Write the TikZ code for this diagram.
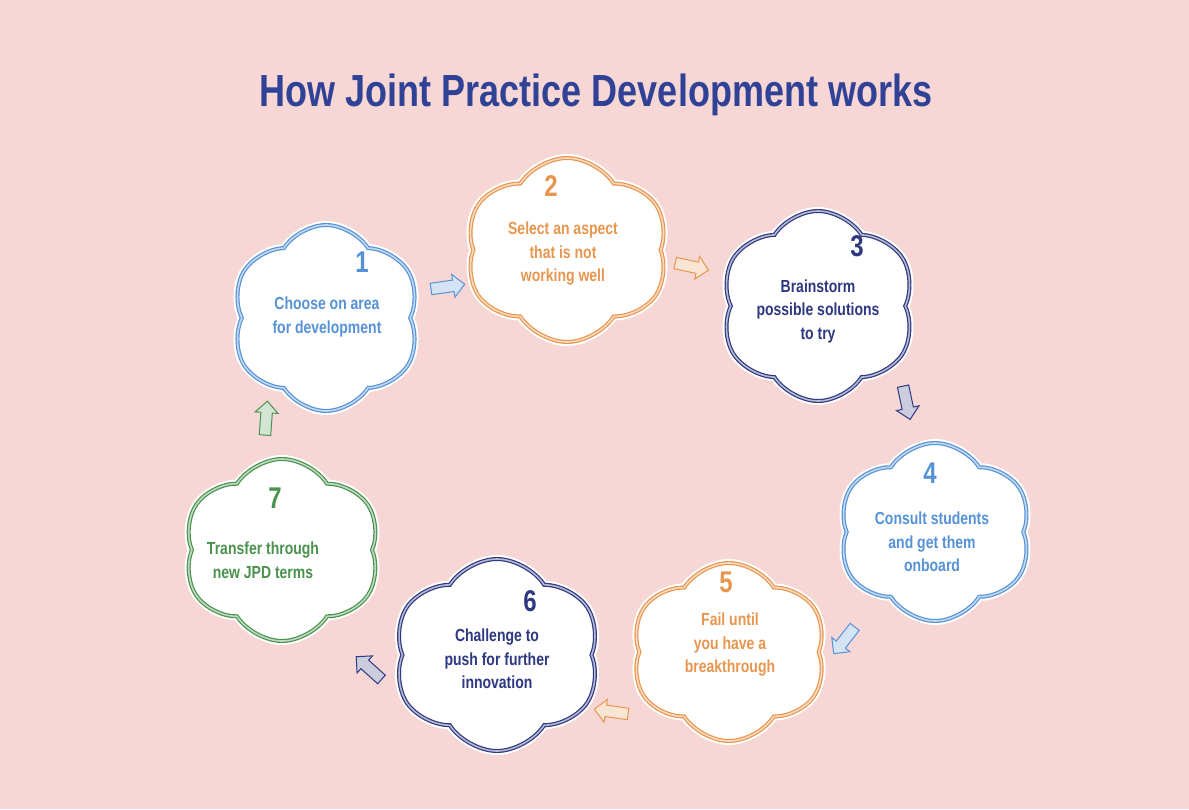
\documentclass[tikz,border=0pt]{standalone}
\usepackage{fontspec}
\setmainfont{Liberation Sans}[FakeStretch=0.8]
\usetikzlibrary{shapes.symbols,shapes.arrows}
\usepackage{xcolor}
\definecolor{jpdpink}{RGB}{247, 214, 214}
\definecolor{jpdtitle}{RGB}{48, 66, 150}
\definecolor{jpdsky}{RGB}{86, 146, 214}
\definecolor{jpdorange}{RGB}{232, 150, 78}
\definecolor{jpdnavy}{RGB}{46, 56, 128}
\definecolor{jpdgreen}{RGB}{74, 146, 78}

\begin{document}
\begin{tikzpicture}[x=1pt, y=-1pt,
    puff/.style={cloud, cloud puffs=6, cloud puff arc=115, aspect=1, fill=white,
        draw=#1, line width=1.2pt, double=#1!35, double distance=1.6pt,
        preaction={draw=white, line width=8pt}},
    steptext/.style={text=#1, font=\bfseries\fontsize{17.5}{23.5}\selectfont, align=center},
    stepnum/.style={text=#1, font=\bfseries\fontsize{30}{30}\selectfont},
    hop/.style={single arrow, draw=#1, fill=#1!25, line width=1pt,
        minimum height=34pt, minimum width=23pt, single arrow head extend=2.5pt, inner sep=2pt}]

    % Background and title
    \fill[jpdpink] (0,0) rectangle (1189,809);
    \useasboundingbox (0,0) rectangle (1189,809);
    \node[text=jpdtitle, font=\bfseries\fontsize{45}{45}\selectfont] (title) at (596,95) {How Joint Practice Development works};

    % Clouds
    \node[puff=jpdsky, minimum width=190pt, minimum height=186pt] (c1) at (326,318) {};
    \node[puff=jpdorange, minimum width=204pt, minimum height=184pt] (c2) at (567,250) {};
    \node[puff=jpdnavy, minimum width=196pt, minimum height=190pt] (c3) at (818,306) {};
    \node[puff=jpdsky, minimum width=194pt, minimum height=178pt] (c4) at (935,532) {};
    \node[puff=jpdorange, minimum width=196pt, minimum height=178pt] (c5) at (729,652) {};
    \node[puff=jpdnavy, minimum width=208pt, minimum height=192pt] (c6) at (497,655) {};
    \node[puff=jpdgreen, minimum width=198pt, minimum height=182pt] (c7) at (282,550) {};

    % Step numbers
    \node[stepnum=jpdsky] (n1) at (362,262) {1};
    \node[stepnum=jpdorange] (n2) at (551,186) {2};
    \node[stepnum=jpdnavy] (n3) at (857,246) {3};
    \node[stepnum=jpdsky] (n4) at (930,473) {4};
    \node[stepnum=jpdorange] (n5) at (726,582) {5};
    \node[stepnum=jpdnavy] (n6) at (530,601) {6};
    \node[stepnum=jpdgreen] (n7) at (275,498) {7};

    % Step texts
    \node[steptext=jpdsky] (t1) at (327,317) {Choose on area\\for development};
    \node[steptext=jpdorange] (t2) at (563,254) {Select an aspect\\that is not\\working well};
    \node[steptext=jpdnavy] (t3) at (818,311) {Brainstorm\\possible solutions\\to try};
    \node[steptext=jpdsky] (t4) at (932,542) {Consult students\\and get them\\onboard};
    \node[steptext=jpdorange] (t5) at (730,645) {Fail until\\you have a\\breakthrough};
    \node[steptext=jpdnavy] (t6) at (497,659) {Challenge to\\push for further\\innovation};
    \node[steptext=jpdgreen] (t7) at (263,560) {Transfer through\\new JPD terms};

    % Little arrows round the cycle
    \node[hop=jpdsky, rotate=8] (a12) at (445,287) {};
    \node[hop=jpdorange, rotate=-12] (a23) at (689,266) {};
    \node[hop=jpdnavy, rotate=-78] (a34) at (906,400) {};
    \node[hop=jpdsky, rotate=-128] (a45) at (846,638) {};
    \node[hop=jpdorange, rotate=172] (a56) at (614,712) {};
    \node[hop=jpdnavy, rotate=138] (a67) at (371,670) {};
    \node[hop=jpdgreen, rotate=86] (a71) at (266,421) {};
\end{tikzpicture}
\end{document}
